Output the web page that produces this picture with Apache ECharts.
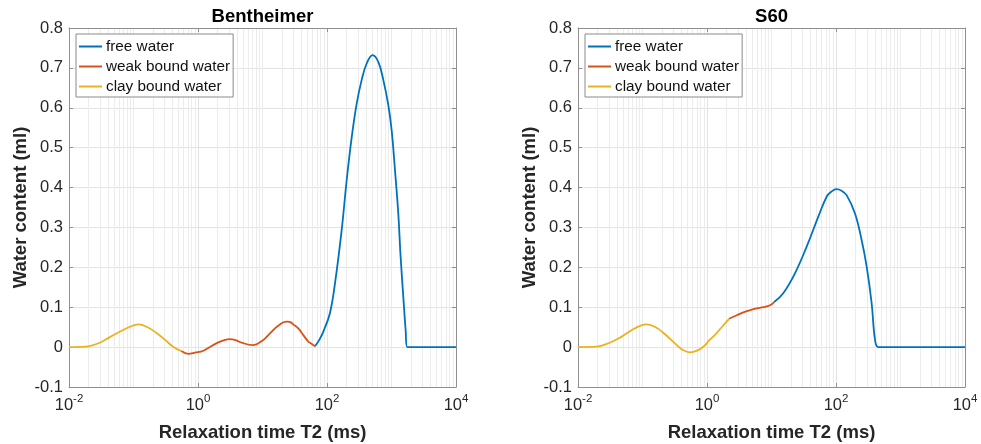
<!DOCTYPE html>
<html>
<head>
<meta charset="utf-8">
<script src="https://cdn.jsdelivr.net/npm/echarts@6/dist/echarts.min.js"></script>
<style>
  html, body { margin: 0; padding: 0; background: #fff; }
  #chart { width: 981px; height: 444px; }
</style>
</head>
<body>
<div id="chart"></div>
<script>
// T2 relaxation spectra (T2 in ms, water content in ml)

// Bentheimer
const benClayT2  = [0.01, 0.015, 0.02, 0.03, 0.043, 0.062, 0.088, 0.119, 0.16, 0.23, 0.31, 0.41, 0.55];
const benClayVal = [0, 0.0005, 0.002, 0.011, 0.025, 0.039, 0.051, 0.057, 0.051, 0.035, 0.018, 0.001, -0.010];
const benWeakT2  = [0.55, 0.71, 0.9, 1.21, 1.95, 2.5, 3.13, 3.9, 4.75, 7.05, 10.3, 12.3, 15.6, 19.8, 22, 24.5, 27.5, 30, 35.9, 43, 51.3, 58, 65.2];
const benWeakVal = [-0.010, -0.017, -0.014, -0.009, 0.010, 0.017, 0.020, 0.017, 0.011, 0.005, 0.018, 0.030, 0.047, 0.060, 0.063, 0.064, 0.062, 0.057, 0.047, 0.030, 0.014, 0.008, 0.002];
const benFreeT2  = [65.2, 76, 87.7, 111, 133, 169, 202, 242, 289, 345, 412, 509, 624, 746, 892, 1005, 1132, 1274, 1384, 1524, 1656, 1758, 3000, 10000];
const benFreeVal = [0.002, 0.018, 0.039, 0.085, 0.160, 0.294, 0.419, 0.527, 0.611, 0.670, 0.711, 0.732, 0.715, 0.670, 0.607, 0.544, 0.444, 0.335, 0.227, 0.126, 0.043, 0, 0, 0];

// S60
const s60ClayT2  = [0.01, 0.0195, 0.031, 0.043, 0.057, 0.08, 0.113, 0.155, 0.21, 0.34, 0.42, 0.545, 0.7, 0.88, 1.1, 1.41, 1.75, 2.2];
const s60ClayVal = [0, 0.001, 0.011, 0.022, 0.035, 0.049, 0.057, 0.051, 0.036, 0.005, -0.007, -0.013, -0.009, 0.001, 0.018, 0.035, 0.053, 0.071];
const s60WeakT2  = [2.2, 2.9, 3.66, 4.7, 5.9, 7.5, 9.5, 11];
const s60WeakVal = [0.071, 0.080, 0.087, 0.093, 0.097, 0.100, 0.105, 0.113];
const s60FreeT2  = [11, 15.2, 23.1, 35.1, 53.2, 71.6, 85, 102, 122, 146, 197, 250, 299, 357, 403, 453, 1000, 10000];
const s60FreeVal = [0.113, 0.135, 0.185, 0.252, 0.327, 0.377, 0.390, 0.396, 0.392, 0.381, 0.335, 0.268, 0.202, 0.110, 0.018, 0, 0, 0];

const panelTitles = ['Bentheimer', 'S60'];
const seriesNames = ['free water', 'weak bound water', 'clay bound water'];
const seriesColors = ['#0072BD', '#D95319', '#EDB120'];
const yMin = -0.1, yMax = 0.8, yStep = 0.1;
const xMin = 0.01, xMax = 10000;

// minor log grid lines: 2..9 within each decade plus the odd decades
const minorGrid = [];
for (let e = -2; e < 4; e++) {
  for (let m = 2; m <= 10; m++) {
    if (m === 10 && (e + 1) % 2 === 0) continue;
    minorGrid.push(+(m * Math.pow(10, e)).toPrecision(3));
  }
}

const FONT = '"Liberation Sans", Arial, Helvetica, sans-serif';
const TEXT = '#262626';
const BOX = '#8f8f8f';

const grids = [
  { left: 69, top: 28, width: 387, height: 359, outerBoundsMode: 'none', containLabel: false },
  { left: 578, top: 28, width: 387, height: 359, outerBoundsMode: 'none', containLabel: false }
];

function pairs(xs, ys) { return xs.map((x, i) => [x, ys[i]]); }

const xAxes = [], yAxes = [];
grids.forEach((g, gi) => {
  xAxes.push({
    type: 'log', logBase: 10, gridIndex: gi, min: xMin, max: xMax, interval: 2,
    position: 'bottom',
    name: 'Relaxation time T2 (ms)', nameLocation: 'middle', nameGap: 36,
    nameTextStyle: { fontFamily: FONT, fontWeight: 'bold', fontSize: 18.5, color: TEXT },
    axisLine: { show: true, onZero: false, lineStyle: { color: BOX, width: 1 } },
    axisTick: { show: true, inside: true, length: 4, lineStyle: { color: BOX } },
    splitLine: { show: true, lineStyle: { color: '#e3e3e3', width: 1 } },
    axisLabel: {
      margin: 6,
      formatter: v => '{b|10}{s|' + Math.round(Math.log10(v)) + '}',
      rich: {
        b: { fontFamily: FONT, fontSize: 16.5, color: TEXT },
        s: { fontFamily: FONT, fontSize: 11.5, color: TEXT, padding: [0, 0, 13, 0] }
      }
    }
  });
  xAxes.push({
    type: 'log', logBase: 10, gridIndex: gi, min: xMin, max: xMax, interval: 2,
    position: 'top',
    axisLine: { show: true, onZero: false, lineStyle: { color: BOX, width: 1 } },
    axisTick: { show: true, inside: true, length: 4, lineStyle: { color: BOX } },
    axisLabel: { show: false }, splitLine: { show: false }
  });
  yAxes.push({
    type: 'value', gridIndex: gi, min: yMin, max: yMax, interval: yStep,
    position: 'left',
    name: 'Water content (ml)', nameLocation: 'middle', nameGap: 36,
    nameTextStyle: { fontFamily: FONT, fontWeight: 'bold', fontSize: 18.5, color: TEXT },
    axisLine: { show: true, onZero: false, lineStyle: { color: BOX, width: 1 } },
    axisTick: { show: true, inside: true, length: 4, lineStyle: { color: BOX } },
    splitLine: { show: true, lineStyle: { color: '#e3e3e3', width: 1 } },
    axisLabel: {
      margin: 6, fontFamily: FONT, fontSize: 16.5, color: TEXT,
      formatter: v => String(parseFloat(v.toFixed(1)))
    }
  });
  yAxes.push({
    type: 'value', gridIndex: gi, min: yMin, max: yMax, interval: yStep,
    position: 'right',
    axisLine: { show: true, onZero: false, lineStyle: { color: BOX, width: 1 } },
    axisTick: { show: true, inside: true, length: 4, lineStyle: { color: BOX } },
    axisLabel: { show: false }, splitLine: { show: false }
  });
});

const panelData = [
  [pairs(benFreeT2, benFreeVal), pairs(benWeakT2, benWeakVal), pairs(benClayT2, benClayVal)],
  [pairs(s60FreeT2, s60FreeVal), pairs(s60WeakT2, s60WeakVal), pairs(s60ClayT2, s60ClayVal)]
];

const series = [];
grids.forEach((g, gi) => {
  // minor log grid, kept underneath the curves
  series.push({
    type: 'line', xAxisIndex: gi * 2, yAxisIndex: gi * 2, data: [], z: 0, silent: true,
    markLine: {
      z: 0, silent: true, symbol: 'none', animation: false,
      label: { show: false },
      lineStyle: { color: '#ececec', width: 1, type: 'solid' },
      emphasis: { disabled: true },
      data: minorGrid.map(v => ({ xAxis: v }))
    }
  });
  panelData[gi].forEach((d, si) => {
    series.push({
      name: seriesNames[si], type: 'line', xAxisIndex: gi * 2, yAxisIndex: gi * 2,
      data: d, smooth: 0.4, showSymbol: false, symbol: 'none',
      z: 10, animation: false,
      lineStyle: { color: seriesColors[si], width: 1.8 },
      itemStyle: { color: seriesColors[si] }
    });
  });
});

const legends = grids.map((g, gi) => ({
  left: g.left + 7, top: 34, orient: 'vertical',
  data: seriesNames.map(n => ({ name: n })),
  icon: 'rect', itemWidth: 23, itemHeight: 2, itemGap: 5,
  padding: [5, 3, 3, 3],
  backgroundColor: '#fff', borderColor: '#8a8a8a', borderWidth: 1, borderRadius: 0,
  selectedMode: false,
  textStyle: { fontFamily: FONT, fontSize: 15.3, color: '#111', padding: [0, 0, 0, -1] }
}));

const option = {
  backgroundColor: '#fff',
  animation: false,
  title: grids.map((g, gi) => ({
    text: panelTitles[gi], left: g.left + g.width / 2, top: 7.5, textAlign: 'center', padding: 0,
    textStyle: { fontFamily: FONT, fontWeight: 'bold', fontSize: 18.5, color: '#000' }
  })),
  grid: grids,
  legend: legends,
  xAxis: xAxes,
  yAxis: yAxes,
  series: series
};

const chart = echarts.init(document.getElementById('chart'), null, { renderer: 'canvas' });
chart.setOption(option);
</script>
</body>
</html>
